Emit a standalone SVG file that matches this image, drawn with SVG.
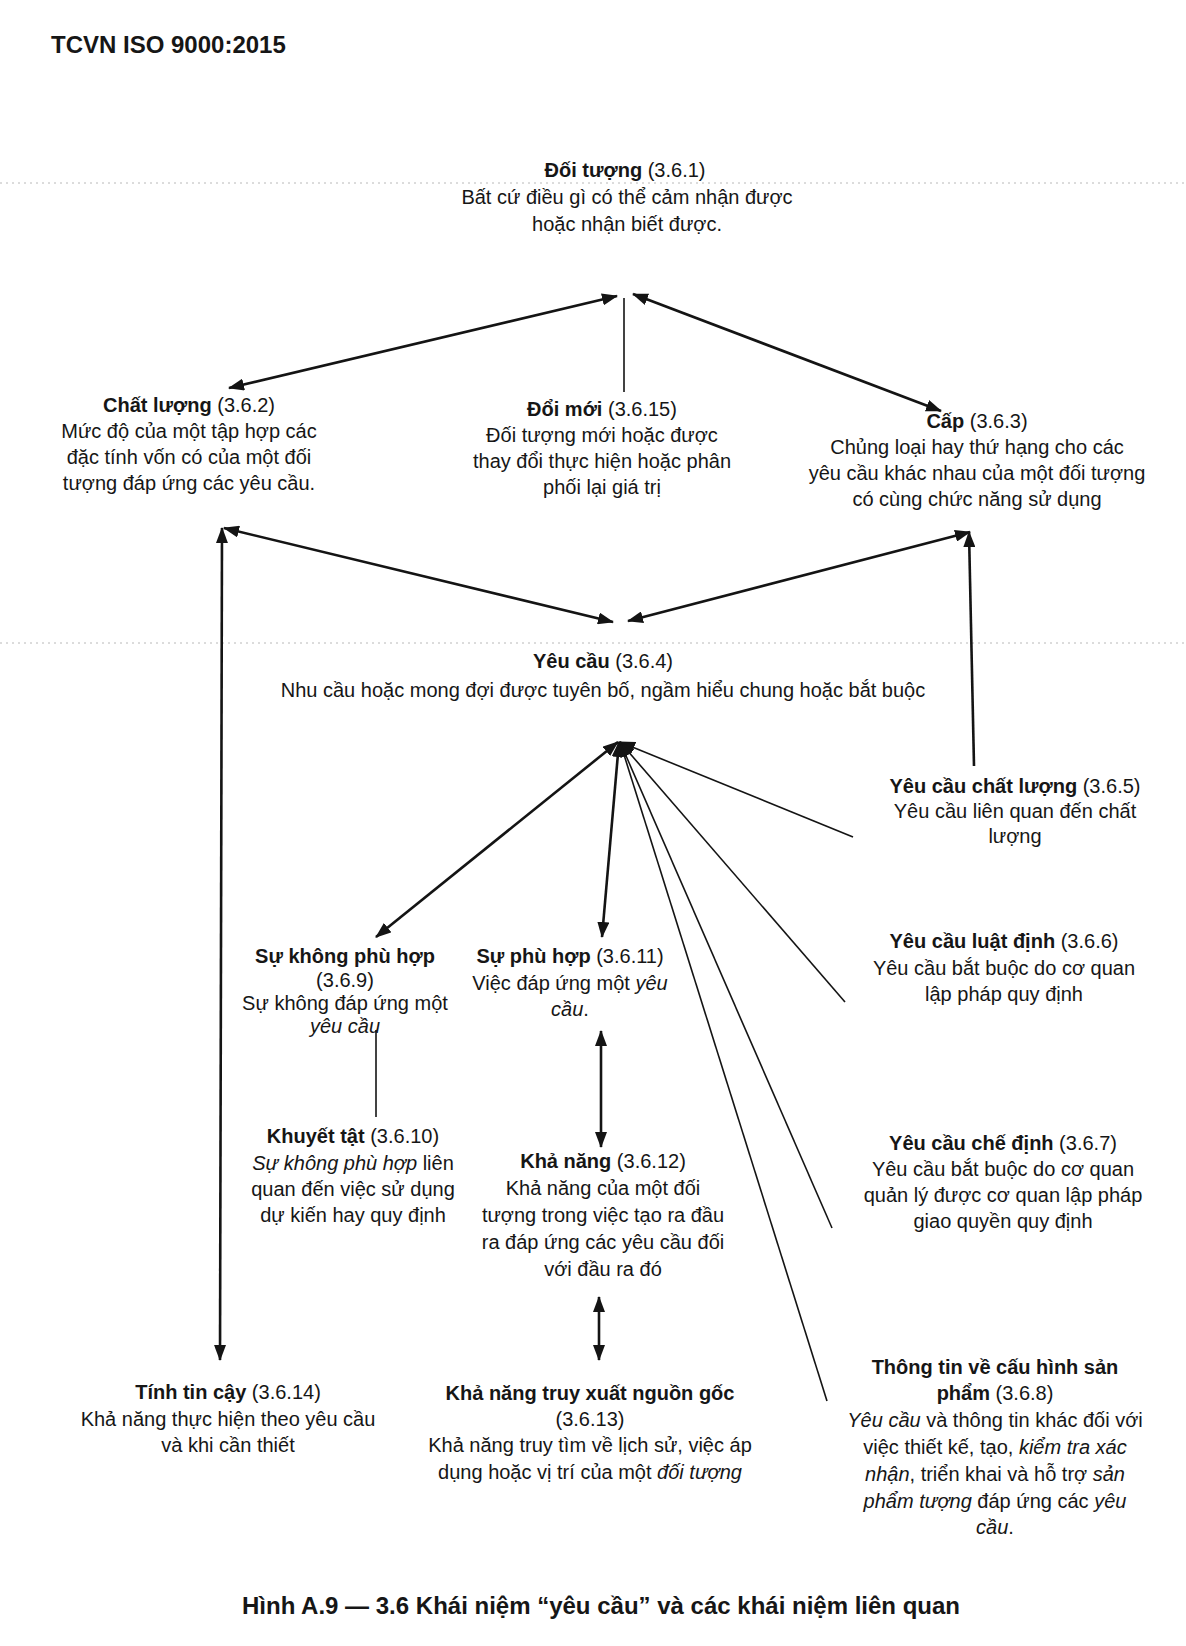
<svg xmlns="http://www.w3.org/2000/svg" width="1186" height="1646" viewBox="0 0 1186 1646">
<style>
  text { font-family: "Liberation Sans", Arial, sans-serif; font-size: 20px; fill: #161616; text-anchor: middle; }
  .hdr { font-size: 24px; font-weight: bold; text-anchor: start; }
  .cap { font-size: 24px; font-weight: bold; }
  .b { font-weight: bold; }
  .i { font-style: italic; }
  .thick { stroke: #141414; stroke-width: 2.6; fill: none; }
  .thin { stroke: #141414; stroke-width: 1.6; fill: none; }
  .scan { stroke: #b8b8b8; stroke-width: 1; stroke-dasharray: 2 4; fill: none; }
</style>
<defs>
  <marker id="ah" viewBox="0 0 16 12" markerWidth="16" markerHeight="12" refX="15" refY="6" orient="auto-start-reverse" markerUnits="userSpaceOnUse">
    <path d="M0,0 L16,6 L0,12 z" fill="#141414"/>
  </marker>
</defs>
<rect width="1186" height="1646" fill="#ffffff"/>

<g id="scan-lines">
  <line class="scan" x1="0" y1="183" x2="1186" y2="183"/>
  <line class="scan" x1="0" y1="643" x2="1186" y2="643"/>
</g>

<text class="hdr" x="51" y="53">TCVN ISO 9000:2015</text>

<g id="connectors">
  <line class="thick" x1="617" y1="296" x2="229" y2="388" marker-start="url(#ah)" marker-end="url(#ah)"/>
  <line class="thick" x1="633" y1="294" x2="941" y2="411" marker-start="url(#ah)" marker-end="url(#ah)"/>
  <line class="thin" x1="624" y1="298" x2="624" y2="392"/>
  <line class="thick" x1="613" y1="622" x2="224" y2="528" marker-start="url(#ah)" marker-end="url(#ah)"/>
  <line class="thick" x1="628" y1="621" x2="970" y2="532" marker-start="url(#ah)" marker-end="url(#ah)"/>
  <line class="thick" x1="222" y1="528" x2="220" y2="1360" marker-start="url(#ah)" marker-end="url(#ah)"/>
  <line class="thick" x1="974" y1="766" x2="969" y2="532" marker-end="url(#ah)"/>
  <line class="thick" x1="618" y1="742" x2="376" y2="937" marker-start="url(#ah)" marker-end="url(#ah)"/>
  <line class="thick" x1="619" y1="742" x2="602" y2="937" marker-start="url(#ah)" marker-end="url(#ah)"/>
  <line class="thin" x1="620" y1="742" x2="853" y2="837" marker-start="url(#ah)"/>
  <line class="thin" x1="620" y1="742" x2="845" y2="1002" marker-start="url(#ah)"/>
  <line class="thin" x1="620" y1="742" x2="832" y2="1228" marker-start="url(#ah)"/>
  <line class="thin" x1="620" y1="742" x2="827" y2="1401"/>
  <line class="thin" x1="376" y1="1030" x2="376" y2="1117"/>
  <line class="thick" x1="601" y1="1031" x2="601" y2="1147" marker-start="url(#ah)" marker-end="url(#ah)"/>
  <line class="thick" x1="599" y1="1297" x2="599" y2="1360" marker-start="url(#ah)" marker-end="url(#ah)"/>
</g>

<g id="doi-tuong">
  <text x="625" y="177"><tspan class="b">Đối tượng</tspan> (3.6.1)</text>
  <text x="627" y="204">Bất cứ điều gì có thể cảm nhận được</text>
  <text x="627" y="231">hoặc nhận biết được.</text>
</g>

<g id="chat-luong">
  <text x="189" y="412"><tspan class="b">Chất lượng</tspan> (3.6.2)</text>
  <text x="189" y="438">Mức độ của một tập hợp các</text>
  <text x="189" y="464">đặc tính vốn có của một đối</text>
  <text x="189" y="490">tượng đáp ứng các yêu cầu.</text>
</g>

<g id="doi-moi">
  <text x="602" y="416"><tspan class="b">Đổi mới</tspan> (3.6.15)</text>
  <text x="602" y="442">Đối tượng mới hoặc được</text>
  <text x="602" y="468">thay đổi thực hiện hoặc phân</text>
  <text x="602" y="494">phối lại giá trị</text>
</g>

<g id="cap">
  <text x="977" y="428"><tspan class="b">Cấp</tspan> (3.6.3)</text>
  <text x="977" y="454">Chủng loại hay thứ hạng cho các</text>
  <text x="977" y="480">yêu cầu khác nhau của một đối tượng</text>
  <text x="977" y="506">có cùng chức năng sử dụng</text>
</g>

<g id="yeu-cau">
  <text x="603" y="668"><tspan class="b">Yêu cầu</tspan> (3.6.4)</text>
  <text x="603" y="697">Nhu cầu hoặc mong đợi được tuyên bố, ngầm hiểu chung hoặc bắt buộc</text>
</g>

<g id="yeu-cau-chat-luong">
  <text x="1015" y="793"><tspan class="b">Yêu cầu chất lượng</tspan> (3.6.5)</text>
  <text x="1015" y="818">Yêu cầu liên quan đến chất</text>
  <text x="1015" y="843">lượng</text>
</g>

<g id="yeu-cau-luat-dinh">
  <text x="1004" y="948"><tspan class="b">Yêu cầu luật định</tspan> (3.6.6)</text>
  <text x="1004" y="975">Yêu cầu bắt buộc do cơ quan</text>
  <text x="1004" y="1001">lập pháp quy định</text>
</g>

<g id="yeu-cau-che-dinh">
  <text x="1003" y="1150"><tspan class="b">Yêu cầu chế định</tspan> (3.6.7)</text>
  <text x="1003" y="1176">Yêu cầu bắt buộc do cơ quan</text>
  <text x="1003" y="1202">quản lý được cơ quan lập pháp</text>
  <text x="1003" y="1228">giao quyền quy định</text>
</g>

<g id="su-khong-phu-hop">
  <text x="345" y="963" class="b">Sự không phù hợp</text>
  <text x="345" y="987">(3.6.9)</text>
  <text x="345" y="1010">Sự không đáp ứng một</text>
  <text x="345" y="1033" class="i">yêu cầu</text>
</g>

<g id="su-phu-hop">
  <text x="570" y="963"><tspan class="b">Sự phù hợp</tspan> (3.6.11)</text>
  <text x="570" y="990">Việc đáp ứng một <tspan class="i">yêu</tspan></text>
  <text x="570" y="1016"><tspan class="i">cầu</tspan>.</text>
</g>

<g id="khuyet-tat">
  <text x="353" y="1143"><tspan class="b">Khuyết tật</tspan> (3.6.10)</text>
  <text x="353" y="1170"><tspan class="i">Sự không phù hợp</tspan> liên</text>
  <text x="353" y="1196">quan đến việc sử dụng</text>
  <text x="353" y="1222">dự kiến hay quy định</text>
</g>

<g id="kha-nang">
  <text x="603" y="1168"><tspan class="b">Khả năng</tspan> (3.6.12)</text>
  <text x="603" y="1195">Khả năng của một đối</text>
  <text x="603" y="1222">tượng trong việc tạo ra đầu</text>
  <text x="603" y="1249">ra đáp ứng các yêu cầu đối</text>
  <text x="603" y="1276">với đầu ra đó</text>
</g>

<g id="tinh-tin-cay">
  <text x="228" y="1399"><tspan class="b">Tính tin cậy</tspan> (3.6.14)</text>
  <text x="228" y="1426">Khả năng thực hiện theo yêu cầu</text>
  <text x="228" y="1452">và khi cần thiết</text>
</g>

<g id="truy-xuat">
  <text x="590" y="1400" class="b">Khả năng truy xuất nguồn gốc</text>
  <text x="590" y="1426">(3.6.13)</text>
  <text x="590" y="1452">Khả năng truy tìm về lịch sử, việc áp</text>
  <text x="590" y="1479">dụng hoặc vị trí của một <tspan class="i">đối tượng</tspan></text>
</g>

<g id="thong-tin-cau-hinh">
  <text x="995" y="1374" class="b">Thông tin về cấu hình sản</text>
  <text x="995" y="1400"><tspan class="b">phẩm</tspan> (3.6.8)</text>
  <text x="995" y="1427"><tspan class="i">Yêu cầu</tspan> và thông tin khác đối với</text>
  <text x="995" y="1454">việc thiết kế, tạo, <tspan class="i">kiểm tra xác</tspan></text>
  <text x="995" y="1481"><tspan class="i">nhận</tspan>, triển khai và hỗ trợ <tspan class="i">sản</tspan></text>
  <text x="995" y="1508"><tspan class="i">phẩm tượng</tspan> đáp ứng các <tspan class="i">yêu</tspan></text>
  <text x="995" y="1534"><tspan class="i">cầu</tspan>.</text>
</g>

<text class="cap" x="601" y="1614">Hình A.9 — 3.6 Khái niệm “yêu cầu” và các khái niệm liên quan</text>
</svg>
